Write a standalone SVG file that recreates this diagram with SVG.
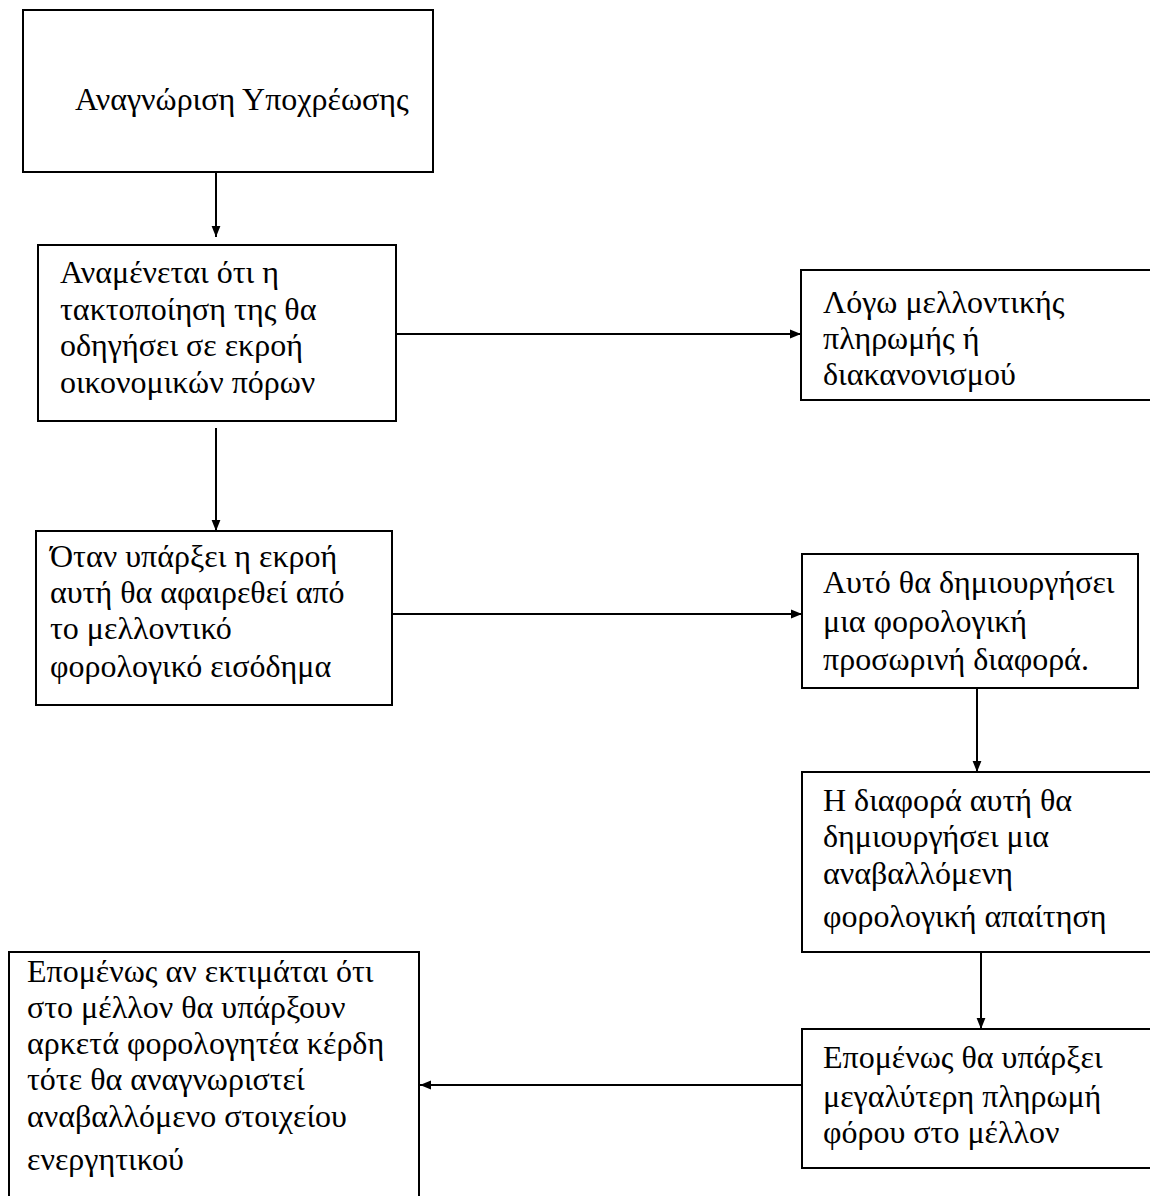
<svg xmlns="http://www.w3.org/2000/svg" width="1150" height="1196" viewBox="0 0 1150 1196">
<style>
.box{fill:#fff;stroke:#000;stroke-width:2}
.t{font-family:"Liberation Serif","Times New Roman",serif;font-size:32px;fill:#000}
.c{stroke:#000;stroke-width:2;fill:none}
</style>
<defs>
<marker id="ah" viewBox="0 0 10 10" refX="10" refY="5" markerWidth="11" markerHeight="11" markerUnits="userSpaceOnUse" orient="auto">
<path d="M0,1 L10,5 L0,9 Z" fill="#000"/>
</marker>
</defs>
<rect width="1150" height="1196" fill="#fff"/>
<g id="connectors">
<line class="c" x1="216" y1="172" x2="216" y2="237" marker-end="url(#ah)"/>
<line class="c" x1="216" y1="428" x2="216" y2="531" marker-end="url(#ah)"/>
<line class="c" x1="396" y1="334" x2="801" y2="334" marker-end="url(#ah)"/>
<line class="c" x1="392" y1="614" x2="802" y2="614" marker-end="url(#ah)"/>
<line class="c" x1="977" y1="688" x2="977" y2="772" marker-end="url(#ah)"/>
<line class="c" x1="981" y1="952" x2="981" y2="1029" marker-end="url(#ah)"/>
<line class="c" x1="802" y1="1085" x2="420" y2="1085" marker-end="url(#ah)"/>
</g>
<g id="n1">
<rect class="box" x="23" y="10" width="410" height="162"/>
<text class="t" x="75" y="110">Αναγνώριση Υποχρέωσης</text>
</g>
<g id="n2">
<rect class="box" x="38" y="245" width="358" height="176"/>
<text class="t" x="60" y="283">Αναμένεται ότι η</text>
<text class="t" x="60" y="320">τακτοποίηση της θα</text>
<text class="t" x="60" y="356">οδηγήσει σε εκροή</text>
<text class="t" x="60" y="393">οικονομικών πόρων</text>
</g>
<g id="n3">
<path class="box" d="M1152,270 H801 V400 H1152"/>
<text class="t" x="823" y="313">Λόγω μελλοντικής</text>
<text class="t" x="823" y="349">πληρωμής ή</text>
<text class="t" x="823" y="385">διακανονισμού</text>
</g>
<g id="n4">
<rect class="box" x="36" y="531" width="356" height="174"/>
<text class="t" x="50" y="567">Όταν υπάρξει  η εκροή</text>
<text class="t" x="50" y="603">αυτή θα αφαιρεθεί από</text>
<text class="t" x="50" y="639">το μελλοντικό</text>
<text class="t" x="50" y="677">φορολογικό εισόδημα</text>
</g>
<g id="n5">
<rect class="box" x="802" y="554" width="336" height="134"/>
<text class="t" x="823" y="593">Αυτό θα δημιουργήσει</text>
<text class="t" x="823" y="632">μια φορολογική</text>
<text class="t" x="823" y="670">προσωρινή διαφορά.</text>
</g>
<g id="n6">
<path class="box" d="M1152,772 H802 V952 H1152"/>
<text class="t" x="823" y="811">Η διαφορά αυτή θα</text>
<text class="t" x="823" y="847">δημιουργήσει μια</text>
<text class="t" x="823" y="884">αναβαλλόμενη</text>
<text class="t" x="823" y="927">φορολογική απαίτηση</text>
</g>
<g id="n7">
<path class="box" d="M1152,1029 H802 V1168 H1152"/>
<text class="t" x="823" y="1068">Επομένως θα υπάρξει</text>
<text class="t" x="823" y="1107">μεγαλύτερη πληρωμή</text>
<text class="t" x="823" y="1143">φόρου στο μέλλον</text>
</g>
<g id="n8">
<path class="box" d="M9,1200 V952 H419 V1200"/>
<text class="t" x="27" y="982">Επομένως αν εκτιμάται ότι</text>
<text class="t" x="27" y="1018">στο μέλλον θα υπάρξουν</text>
<text class="t" x="27" y="1054">αρκετά φορολογητέα κέρδη</text>
<text class="t" x="27" y="1090">τότε θα αναγνωριστεί</text>
<text class="t" x="27" y="1127">αναβαλλόμενο στοιχείου</text>
<text class="t" x="27" y="1170">ενεργητικού</text>
</g>
</svg>
